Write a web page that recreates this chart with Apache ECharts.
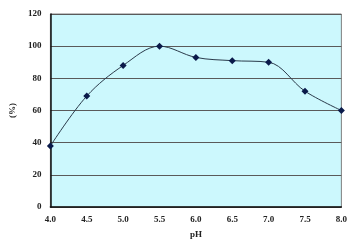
<!DOCTYPE html>
<html><head><meta charset="utf-8">
<script src="https://cdn.jsdelivr.net/npm/echarts@6/dist/echarts.min.js"></script>
<style>html,body{margin:0;padding:0;background:#fff}#c{width:350px;height:250px}</style>
</head><body><div id="c"></div>
<script>
const phValues = [4.0, 4.5, 5.0, 5.5, 6.0, 6.5, 7.0, 7.5, 8.0];
const percentValues = [38, 69, 88, 100, 93, 91, 90, 72, 60];
const yTicks = [0, 20, 40, 60, 80, 100, 120];
const xTicks = ['4.0','4.5','5.0','5.5','6.0','6.5','7.0','7.5','8.0'];

const font = 'Liberation Serif';
const chart = echarts.init(document.getElementById('c'));
chart.setOption({
  animation: false,
  grid: {left: 42, right: 7, top: 14, bottom: 43, show: true, backgroundColor: '#ccf8fd', borderColor: '#808080', borderWidth: 1},
  xAxis: {
    type: 'value', min: 4, max: 8, interval: 0.5,
    name: 'pH', nameLocation: 'middle', nameGap: 23,
    nameTextStyle: {fontFamily: font, fontWeight: 'bold', fontSize: 9, color: '#222'},
    axisLine: {lineStyle: {color: '#111', width: 1.5}},
    axisTick: {show: false},
    splitLine: {show: false},
    axisLabel: {fontFamily: font, fontWeight: 'bold', fontSize: 9, color: '#222', margin: 8,
      formatter: v => xTicks[Math.round((v - 4) / 0.5)]}
  },
  yAxis: {
    type: 'value', min: 0, max: 120, interval: 20,
    name: '(%)', nameLocation: 'middle', nameGap: 28, nameRotate: 90,
    nameTextStyle: {fontFamily: font, fontWeight: 'bold', fontSize: 9, color: '#222'},
    axisLine: {show: true, lineStyle: {color: '#111', width: 1.5}},
    axisTick: {show: false},
    splitLine: {lineStyle: {color: '#5a5a5a', width: 1}},
    axisLabel: {fontFamily: font, fontWeight: 'bold', fontSize: 9, color: '#222', margin: 9,
      formatter: v => yTicks.includes(v) ? String(v) : ''}
  },
  series: [{
    type: 'line', smooth: 0.35,
    data: phValues.map((x, i) => [x, percentValues[i]]),
    symbol: 'diamond', symbolSize: 7,
    itemStyle: {color: '#0a1a4a'},
    lineStyle: {color: '#2a3a4a', width: 1}
  }]
});
</script></body></html>
